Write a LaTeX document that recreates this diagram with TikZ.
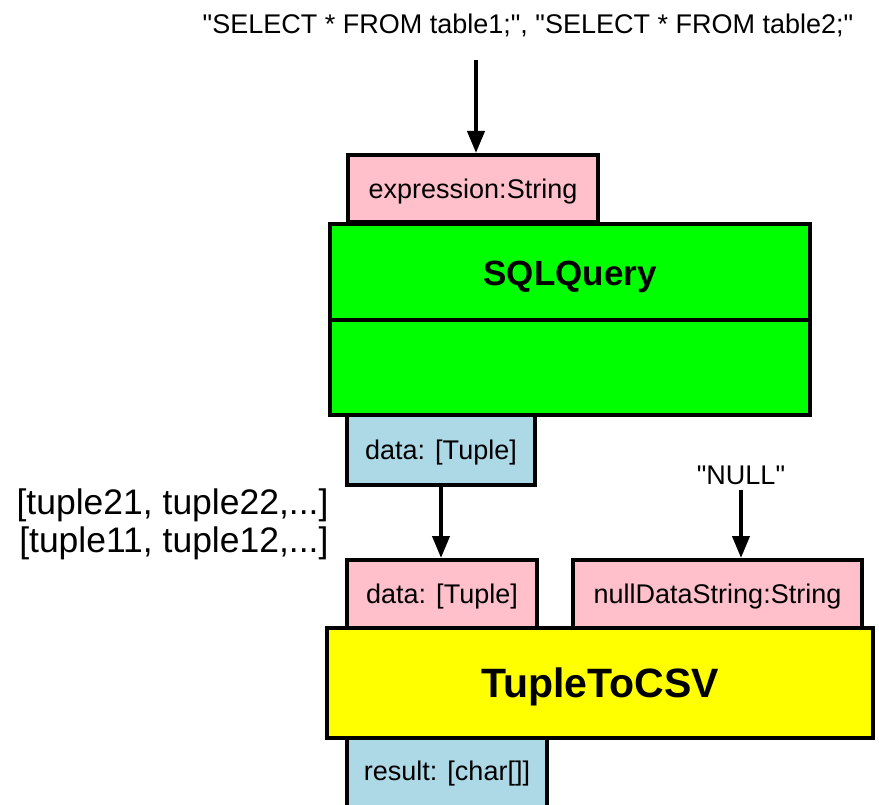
\documentclass[tikz,border=0pt]{standalone}
\usepackage{fontspec}
\setmainfont{Liberation Sans}[Ligatures=TeXOff]
\usetikzlibrary{arrows.meta}
\definecolor{ppink}{HTML}{FFC0CB}
\definecolor{pgreen}{HTML}{00FF00}
\definecolor{pblue}{HTML}{ADD8E6}
\definecolor{pyellow}{HTML}{FFFF00}
\begin{document}
\begin{tikzpicture}[x=1pt,y=-1pt,
  box/.style={draw=black,line width=4pt,inner sep=0pt,anchor=center,text depth=0pt},
  lbl/.style={font=\fontsize{27}{32}\selectfont},
  big/.style={font=\fontsize{35.5}{42}\selectfont},
  arr/.style={line width=4pt,-{Triangle[width=17pt,length=22pt]}}]
\clip (0,0) rectangle (879,805);
\fill[white] (0,0) rectangle (879,805);
% top input
\node[lbl] (top) at (528,25) {"SELECT * FROM table1;", "SELECT * FROM table2;"};
\coordinate (a1) at (476,60);
% SQLQuery
\node[box,fill=ppink,minimum width=250pt,minimum height=67pt,lbl] (expr) at (473,188.5) {expression:String};
\node[box,fill=pgreen,minimum width=480pt,minimum height=98pt,font=\bfseries\fontsize{35}{40}\selectfont] (sql) at (570,273) {SQLQuery};
\node[box,fill=pgreen,minimum width=480pt,minimum height=95pt] (sqlb) at (570,367.5) {};
\node[box,fill=pblue,minimum width=188pt,minimum height=70pt,lbl] (dout) at (441,450) {data: [Tuple]};
% side labels
\node[big,anchor=east] (t2) at (332,505) {[tuple21, tuple22,...]};
\node[big,anchor=east] (t1) at (332,543) {[tuple11, tuple12,...]};
\node[lbl] (null) at (741,475) {"NULL"};
\coordinate (a3) at (741,490);
% TupleToCSV
\node[box,fill=ppink,minimum width=190pt,minimum height=68pt,lbl] (din) at (442,594) {data: [Tuple]};
\node[box,fill=ppink,minimum width=289pt,minimum height=68pt,lbl] (nds) at (717.5,594) {nullDataString:String};
\node[box,fill=pyellow,minimum width=546pt,minimum height=110pt,font=\bfseries\fontsize{41}{46}\selectfont] (tcsv) at (600,683) {TupleToCSV};
\node[box,fill=pblue,minimum width=200pt,minimum height=74pt] (res) at (447,775) {};
\node[lbl,anchor=center,text depth=0pt] (restxt) at (447,771) {result: [char[]]};
% arrows
\draw[arr] (a1) -- (a1 |- expr.north);
\draw[arr] (dout.south) -- (dout.south |- din.north);
\draw[arr] (a3) -- (a3 |- nds.north);
\end{tikzpicture}
\end{document}
